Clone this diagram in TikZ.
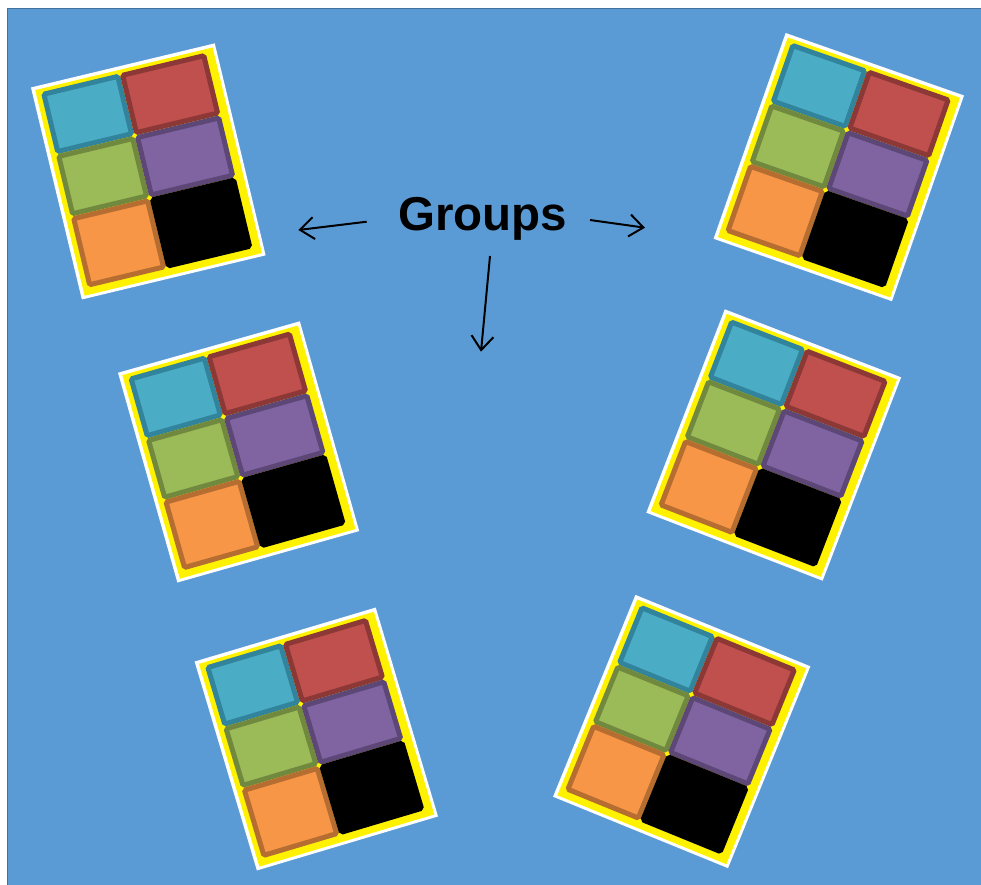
\documentclass[tikz,border=0pt]{standalone}
\usepackage{fontspec}
\setmainfont{Liberation Sans}
\usetikzlibrary{arrows.meta}
\definecolor{bgblue}{HTML}{5B9BD5}
\definecolor{bgedge}{HTML}{41719C}
\definecolor{cyanF}{HTML}{4BACC6}\definecolor{cyanD}{HTML}{31849B}
\definecolor{redF}{HTML}{C0504D}\definecolor{redD}{HTML}{8C3836}
\definecolor{greenF}{HTML}{9BBB59}\definecolor{greenD}{HTML}{71893F}
\definecolor{purpleF}{HTML}{8064A2}\definecolor{purpleD}{HTML}{5C4776}
\definecolor{orangeF}{HTML}{F79646}\definecolor{orangeD}{HTML}{B66D31}
\tikzset{
  cellbox/.style={line width=5pt, rounded corners=1.5pt},
  whiteframe/.style={fill=white},
  yellowframe/.style={fill=yellow},
  grouparrow/.style={line width=2pt, -{Straight Barb[length=14pt,width=22pt]}},
  label/.style={font=\bfseries\fontsize{47.5}{50}\selectfont, inner sep=0pt}
}
\newcommand\cellfill[6]{%
  \filldraw[cellbox, fill=#5, draw=#6] (#1+2.5,#2+2.5) rectangle (#3-2.5,#4-2.5);}
\newcommand\grpbox[3]{%
  \begin{scope}[shift={(#1,#2)}, rotate=#3]
    \fill[whiteframe] (-94.5,-109) rectangle (94.5,109);
    \fill[yellowframe] (-91,-105.5) rectangle (91.5,106);
    \cellfill{-86}{-102}{-5}{-38}{cyanF}{cyanD}
    \cellfill{-5}{-102}{83.5}{-38}{redF}{redD}
    \cellfill{-86}{-38}{-5}{26}{greenF}{greenD}
    \cellfill{-5}{-38}{83.5}{26}{purpleF}{purpleD}
    \cellfill{-86}{26}{-5}{99}{orangeF}{orangeD}
    \cellfill{-5}{26}{83.5}{99}{black}{black}
  \end{scope}}
\begin{document}
\begin{tikzpicture}[x=1pt, y=-1pt]
  \useasboundingbox (0,0) rectangle (981,884);
  \filldraw[fill=bgblue, draw=bgedge, line width=1.5pt] (7.5,8.5) rectangle (990,895);
  \grpbox{148.3}{171.4}{13.5}
  \grpbox{838.8}{167.1}{-19.3}
  \grpbox{238.6}{451.9}{15.8}
  \grpbox{773.7}{445}{-21.1}
  \grpbox{316.3}{739}{16.6}
  \grpbox{681.7}{731.5}{-22.2}
  \node[label, anchor=base] (groups) at (482.5,230) {Groups};
  \coordinate (lstart) at (366.7,221.7);
  \coordinate (lend) at (298.3,230);
  \coordinate (rstart) at (590,220);
  \coordinate (rend) at (645,227.7);
  \coordinate (dstart) at (490,256);
  \coordinate (dend) at (481,351.7);
  \draw[grouparrow] (lstart) -- (lend);
  \draw[grouparrow] (rstart) -- (rend);
  \draw[grouparrow] (dstart) -- (dend);
\end{tikzpicture}
\end{document}
